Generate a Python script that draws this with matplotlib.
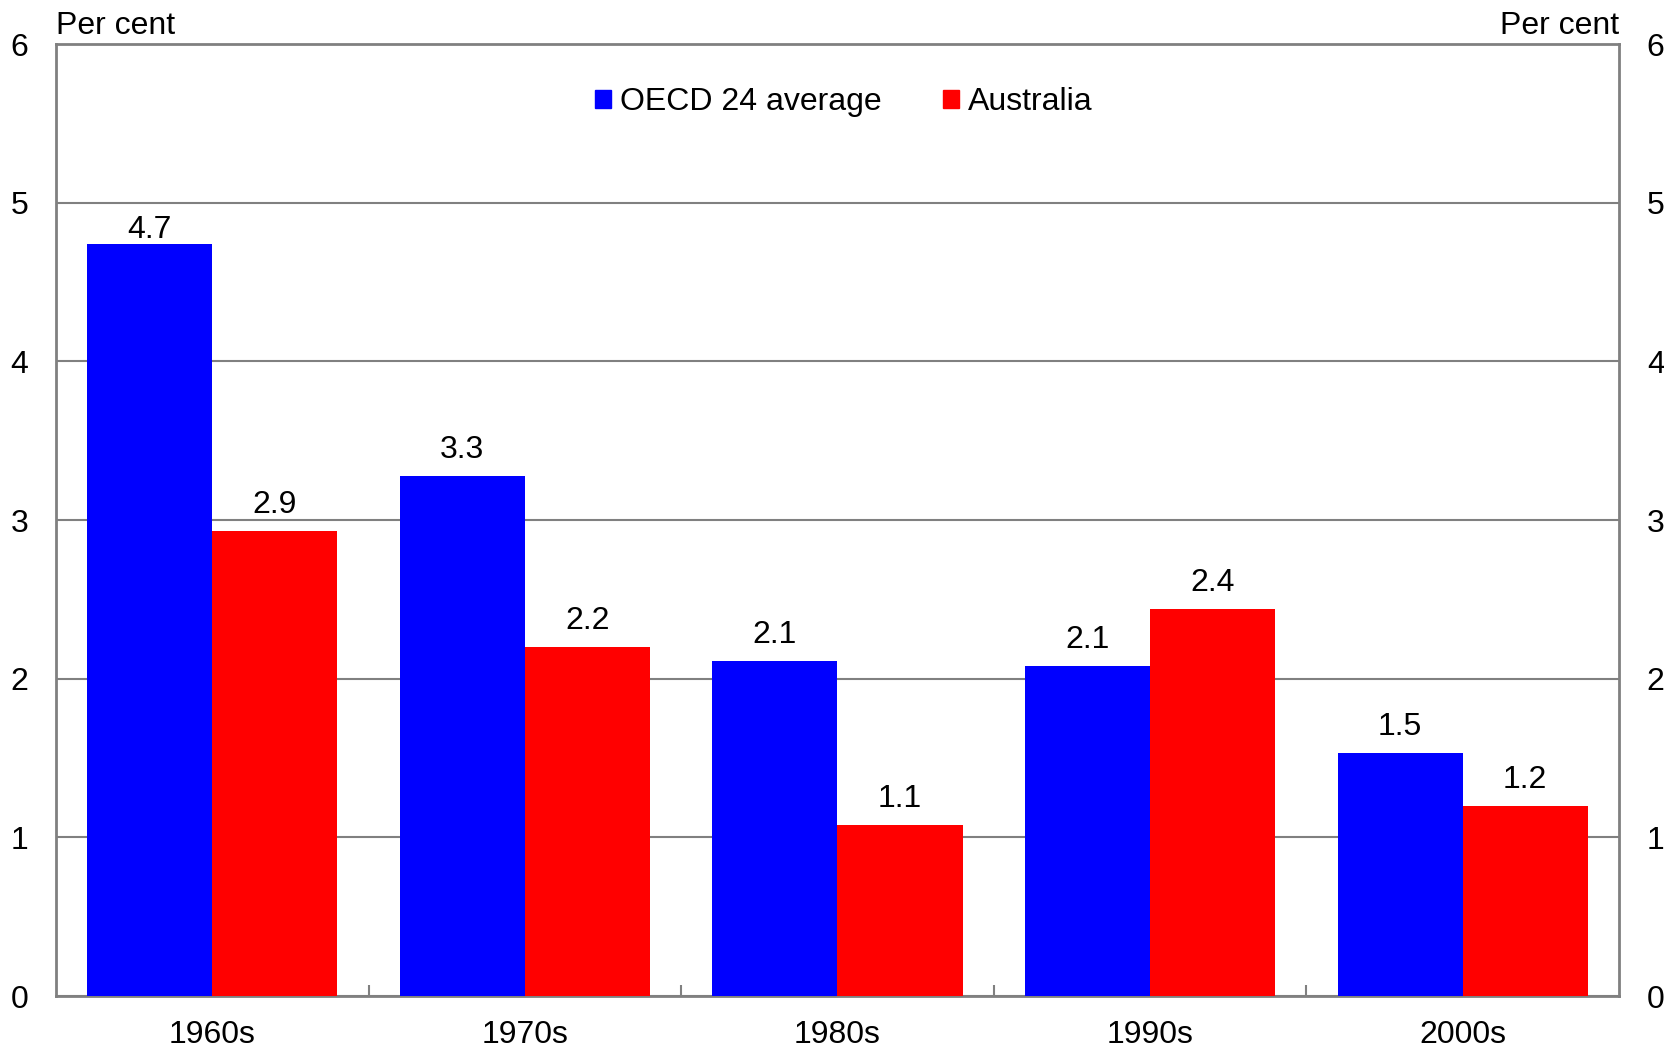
import numpy as np
import matplotlib.pyplot as plt
from matplotlib.patches import Patch

plt.rcParams['font.family'] = ['Liberation Sans', 'DejaVu Sans']

decades = ['1960s', '1970s', '1980s', '1990s', '2000s']
oecd = [4.74, 3.28, 2.11, 2.08, 1.53]
australia = [2.93, 2.20, 1.08, 2.44, 1.20]

blue = '#0000ff'
red = '#ff0000'
grey = '#808080'
fs = 23

fig = plt.figure(figsize=(16.65, 10.48), dpi=100)
ax = fig.add_axes([0.0336, 0.0496, 0.9388, 0.9084])

x = np.arange(len(decades))
w = 0.4
b1 = ax.bar(x - w/2, oecd, w, color=blue, zorder=3)
b2 = ax.bar(x + w/2, australia, w, color=red, zorder=3)

# value labels above each bar; the tallest one is tucked in closer
for bars, vals in ((b1, oecd), (b2, australia)):
    for bar, v in zip(bars, vals):
        dy = 4 if v == max(oecd) else 13
        ax.annotate(f'{v:.1f}', (bar.get_x() + bar.get_width()/2, v),
                    xytext=(0, dy), textcoords='offset points',
                    ha='center', va='baseline', fontsize=fs)

ax.set_xlim(-0.5, len(decades) - 0.5)
ax.set_ylim(0, 6)
ax.set_yticks(range(7))
ax.yaxis.grid(True, color=grey, linewidth=1.5, zorder=0)
ax.set_xticks(x)
ax.set_xticklabels(decades, fontsize=fs)
ax.set_xticks(x[:-1] + 0.5, minor=True)
ax.tick_params(axis='x', which='major', length=0, pad=17)
ax.tick_params(axis='x', which='minor', direction='in', length=8, width=1.5, color=grey)
ax.tick_params(axis='y', length=0, labelsize=fs, pad=20,
               labelleft=True, labelright=True)
for s in ax.spines.values():
    s.set_color(grey)
    s.set_linewidth(2)

ax.text(0, 1.003, 'Per cent', transform=ax.transAxes, ha='left', va='bottom', fontsize=fs)
ax.text(1, 1.003, 'Per cent', transform=ax.transAxes, ha='right', va='bottom', fontsize=fs)

handles = [Patch(color=blue, label='OECD 24 average'), Patch(color=red, label='Australia')]
ax.legend(handles=handles, loc='upper center', bbox_to_anchor=(0.504, 0.985), ncol=2,
          frameon=False, fontsize=fs, handlelength=0.5, handleheight=0.5,
          handletextpad=0.3, columnspacing=1.9)

fig.savefig('out.png', dpi=100)
